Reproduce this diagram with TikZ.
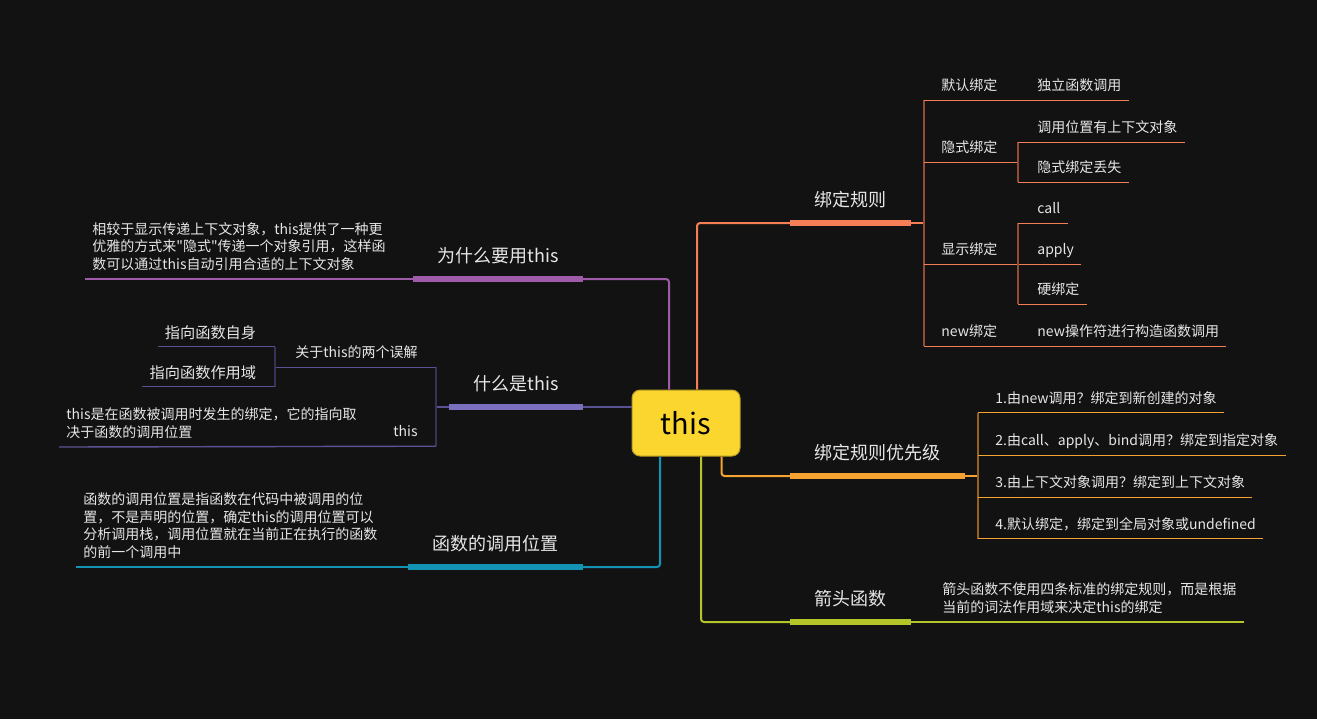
\documentclass[tikz,border=0pt]{standalone}
\usepackage{fontspec}
\setmainfont{Noto Sans CJK SC}[Ligatures=TeXOff]

\definecolor{bgdark}{HTML}{121212}
\definecolor{fgtext}{HTML}{E6E6E6}
\definecolor{rootfill}{HTML}{FBD62E}
\definecolor{rootedge}{HTML}{B59A22}
\definecolor{rulesC}{HTML}{F47E55}
\definecolor{prioC}{HTML}{F6A233}
\definecolor{arrowC}{HTML}{B4C52A}
\definecolor{siteC}{HTML}{1394B4}
\definecolor{whyC}{HTML}{9E5CA8}
\definecolor{whatC}{HTML}{7A70BE}
\definecolor{whatL}{HTML}{5A5393}

\begin{document}
\begin{tikzpicture}[x=0.5pt,y=-0.5pt,
    root/.style={draw=rootedge, line width=0.5pt, fill=rootfill, rounded corners=4pt,
      minimum width=54pt, minimum height=33pt, font=\fontsize{14.5}{16}\selectfont, text=black},
    topic/.style={font=\fontsize{9}{11}\selectfont, text=fgtext, text height=7.2pt,
      text depth=1.3pt, inner xsep=12pt, inner ysep=6.8pt},
    leaf/.style={font=\fontsize{7}{8.8}\selectfont, text=fgtext, text height=5.6pt,
      text depth=1pt, inner xsep=3.5pt, inner ysep=3.6pt, anchor=west},
    bigleaf/.style={leaf, font=\fontsize{7.6}{9.5}\selectfont, text height=6.1pt,
      text depth=1.1pt, inner ysep=2.7pt},
    note/.style={font=\fontsize{7}{8.85}\selectfont, text=fgtext, text depth=1pt,
      inner xsep=3.5pt, inner ysep=3.6pt, align=left},
    bar/.style={line width=2.7pt},
    wire/.style={line width=0.7pt},
    spine/.style={wire, draw=#1!60!black},
    link/.style={line width=1pt, rounded corners=1.5pt},
  ]
\fill[bgdark] (0,0) rectangle (1317,719);
\useasboundingbox (0,0) rectangle (1317,719);

% centre
\node[root] (root) at (686,423) {this};

% main topics
\node[topic, anchor=south west] (rules) at (790,223) {绑定规则};
\node[topic, anchor=south west] (prio) at (790,476) {绑定规则优先级};
\node[topic, anchor=south west] (arrow) at (790,622) {箭头函数};
\node[topic, anchor=south east] (why) at (583,279) {为什么要用this};
\node[topic, anchor=south east] (what) at (583,407) {什么是this};
\node[topic, anchor=south east] (site) at (583,567) {函数的调用位置};

% links from the centre
\draw[link, rulesC] ([xshift=5.5pt]root.north) |- (rules.south west);
\draw[link, prioC] ([xshift=17.75pt]root.south) |- (prio.south west);
\draw[link, arrowC] ([xshift=7.5pt]root.south) |- (arrow.south west);
\draw[link, whyC] ([xshift=-8.5pt]root.north) |- (why.south east);
\draw[link, whatL] (root.west |- what.south) -- (what.south east);
\draw[link, siteC] ([xshift=-13pt]root.south) |- (site.south east);

% 绑定规则
\coordinate (rules-spine) at ([xshift=6.5pt]rules.south east);
\node[leaf] (r-default) at (934,86) {默认绑定};
\node[leaf] (r-default-a) at (1030,86) {独立函数调用};
\node[leaf] (r-implicit) at (934,148) {隐式绑定};
\node[leaf] (r-implicit-a) at (1030,128) {调用位置有上下文对象};
\node[leaf] (r-implicit-b) at (1030,168) {隐式绑定丢失};
\node[leaf] (r-explicit) at (934,250) {显示绑定};
\node[leaf] (r-explicit-a) at (1030,209) {call};
\node[leaf] (r-explicit-b) at (1030,250) {apply};
\node[leaf] (r-explicit-c) at (1030,290) {硬绑定};
\node[leaf] (r-new) at (934,332) {new绑定};
\node[leaf] (r-new-a) at (1030,332) {new操作符进行构造函数调用};
\coordinate (implicit-fork) at ([xshift=6.5pt]r-implicit.south east);
\coordinate (explicit-fork) at ([xshift=6.5pt]r-explicit.south east);

\draw[wire, rulesC] (rules.south east) -- (rules-spine);
\draw[spine=rulesC] (rules-spine |- r-default.south) -- (rules-spine |- r-new.south);
\draw[wire, rulesC] (rules-spine |- r-default.south) -- (r-default-a.south east);
\draw[wire, rulesC] (rules-spine |- r-implicit.south) -- (implicit-fork);
\draw[spine=rulesC] (implicit-fork |- r-implicit-a.south) -- (implicit-fork |- r-implicit-b.south);
\draw[wire, rulesC] (implicit-fork |- r-implicit-a.south) -- (r-implicit-a.south east);
\draw[wire, rulesC] (implicit-fork |- r-implicit-b.south) -- (r-implicit-b.south east);
\draw[wire, rulesC] (rules-spine |- r-explicit.south) -- (r-explicit-b.south east);
\draw[spine=rulesC] (explicit-fork |- r-explicit-a.south) -- (explicit-fork |- r-explicit-c.south);
\draw[wire, rulesC] (explicit-fork |- r-explicit-a.south) -- (r-explicit-a.south east);
\draw[wire, rulesC] (explicit-fork |- r-explicit-c.south) -- (r-explicit-c.south east);
\draw[wire, rulesC] (rules-spine |- r-new.south) -- (r-new-a.south east);
\draw[bar, rulesC] (rules.south west) -- (rules.south east);

% 绑定规则优先级
\coordinate (prio-spine) at ([xshift=6.5pt]prio.south east);
\node[leaf] (p-one) at (988,398.5) {1.由new调用？绑定到新创建的对象};
\node[leaf] (p-two) at (988,441) {2.由call、apply、bind调用？绑定到指定对象};
\node[leaf] (p-three) at (988,483) {3.由上下文对象调用？绑定到上下文对象};
\node[leaf] (p-four) at (988,524.5) {4.默认绑定，绑定到全局对象或undefined};
\draw[wire, prioC] (prio.south east) -- (prio-spine);
\draw[spine=prioC] (prio-spine |- p-one.south) -- (prio-spine |- p-four.south);
\foreach \n in {p-one,p-two,p-three,p-four}
  \draw[wire, prioC] (prio-spine |- \n.south) -- (\n.south east);
\draw[bar, prioC] (prio.south west) -- (prio.south east);

% 箭头函数
\node[note, anchor=south west] (arrow-note) at (935,622)
  {箭头函数不使用四条标准的绑定规则，而是根据\\当前的词法作用域来决定this的绑定};
\draw[wire, arrowC] (arrow.south east) -- (arrow-note.south east);
\draw[bar, arrowC] (arrow.south west) -- (arrow.south east);

% 为什么要用this
\node[note, anchor=south west] (why-note) at (85,279)
  {相较于显示传递上下文对象，this提供了一种更\\优雅的方式来"隐式"传递一个对象引用，这样函\\数可以通过this自动引用合适的上下文对象};
\draw[wire, whyC] (why-note.south west) -- (why.south west);
\draw[bar, whyC] (why.south west) -- (why.south east);

% 什么是this
\coordinate (what-spine) at ([xshift=-6.5pt]what.south west);
\node[leaf, anchor=east] (w-myth) at (425,353) {关于this的两个误解};
\node[bigleaf, anchor=east] (w-self) at (263.5,333.5) {指向函数自身};
\node[bigleaf, anchor=east] (w-scope) at (263.5,373.5) {指向函数作用域};
\node[leaf, anchor=east] (w-this) at (425,432) {this};
\node[note, anchor=south west] (w-this-note) at (59,447)
  {this是在函数被调用时发生的绑定，它的指向取\\决于函数的调用位置};
\coordinate (myth-fork) at ([xshift=-6.5pt]w-myth.south west);
\draw[wire, whatL] (what.south west) -- (what-spine);
\draw[spine=whatL] (what-spine |- w-myth.south) -- (what-spine |- w-this.south);
\draw[wire, whatL] (what-spine |- w-myth.south) -- (myth-fork);
\draw[spine=whatL] (myth-fork |- w-self.south) -- (myth-fork |- w-scope.south);
\draw[wire, whatL] (myth-fork |- w-self.south) -- (w-self.south west);
\draw[wire, whatL] (myth-fork |- w-scope.south) -- (w-scope.south west);
\draw[wire, whatL] (what-spine |- w-this.south) -- (w-this-note.south west);
\draw[bar, whatC] (what.south west) -- (what.south east);

% 函数的调用位置
\node[note, anchor=south west] (site-note) at (76,567)
  {函数的调用位置是指函数在代码中被调用的位\\置，不是声明的位置，确定this的调用位置可以\\分析调用栈，调用位置就在当前正在执行的函数\\的前一个调用中};
\draw[wire, siteC] (site-note.south west) -- (site.south west);
\draw[bar, siteC] (site.south west) -- (site.south east);
\end{tikzpicture}
\end{document}
